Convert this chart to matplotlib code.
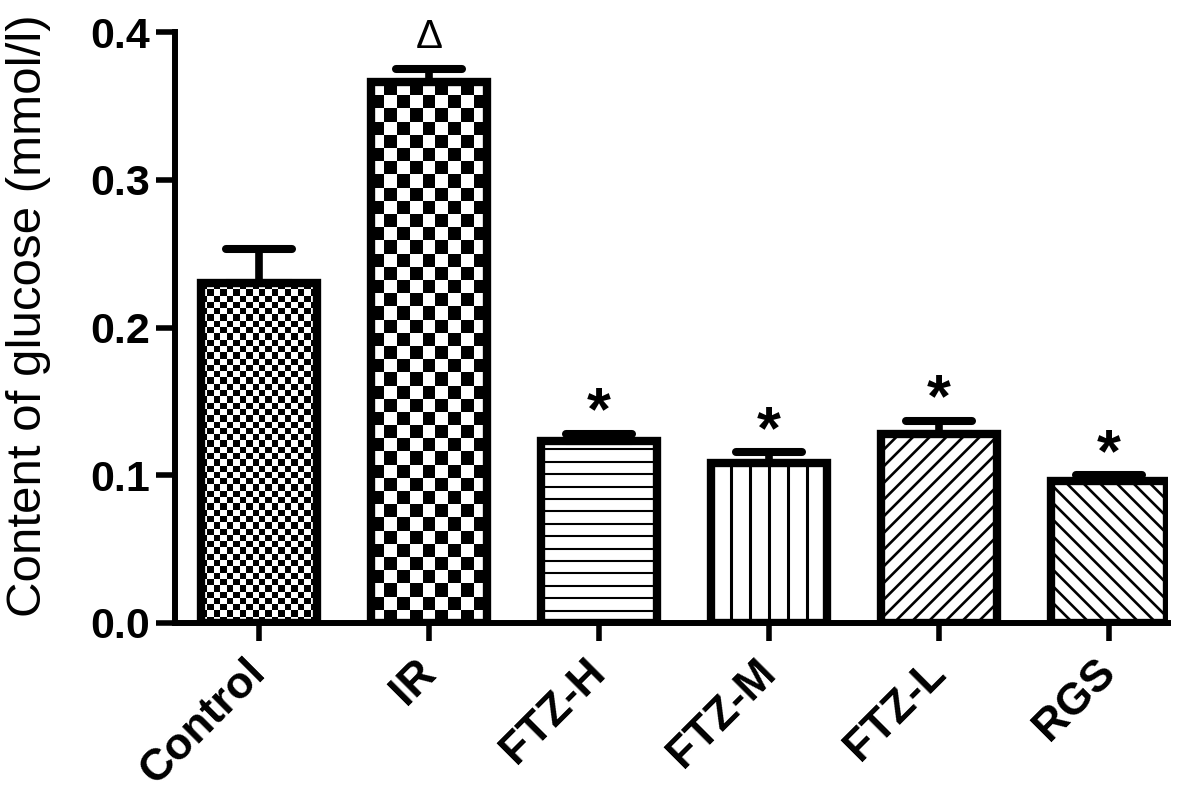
import numpy as np
import matplotlib
matplotlib.use("Agg")
import matplotlib.pyplot as plt
from matplotlib.markers import MarkerStyle

# ---------------- data ----------------
groups = ["Control", "IR", "FTZ-H", "FTZ-M", "FTZ-L", "RGS"]
means = [0.230, 0.366, 0.123, 0.108, 0.128, 0.096]
sems = [0.023, 0.009, 0.005, 0.0075, 0.009, 0.004]
marks = ["", "Δ", "*", "*", "*", "*"]
ytick_values = [0.0, 0.1, 0.2, 0.3, 0.4]
ytick_labels = ["0.0", "0.1", "0.2", "0.3", "0.4"]
ylabel_text = "Content of glucose (mmol/l)"
# fill style per bar: checker (cell px), horizontal / vertical lines (spacing px), hatch
fills = ["checker", "checker", "hlines", "vlines", "//", "\\\\"]
fill_px = [6.3, 13.3, 12.4, 19.0, None, None]

plt.rcParams["font.family"] = ["Liberation Sans", "DejaVu Sans"]
plt.rcParams["hatch.linewidth"] = 1.9
plt.rcParams["hatch.color"] = "black"

W, H = 1200, 795
fig = plt.figure(figsize=(W / 100, H / 100), dpi=100)
ax = fig.add_axes([175 / W, 172 / H, (1168 - 175) / W, (623 - 32) / H])

x = np.arange(len(groups))
xlim = (-0.494, 5.347)
ylim = (0.0, 0.4)
ax.set_xlim(*xlim)
ax.set_ylim(*ylim)

bar_w = 0.68
edge_lw = 6.0
bars = ax.bar(x, means, width=bar_w, color="white", edgecolor="black",
              linewidth=edge_lw, zorder=3)

inv = ax.transData.inverted()
for b, f, px in zip(bars, fills, fill_px):
    x0, w, h = b.get_x(), b.get_width(), b.get_height()
    p0 = ax.transData.transform((x0, 0))
    p1 = ax.transData.transform((x0 + w, h))
    if f == "checker":
        b.set_facecolor("none")
        nx = max(1, int(round((p1[0] - p0[0]) / px)))
        ny = max(1, int(round((p1[1] - p0[1]) / px)))
        img = (np.indices((ny, nx)).sum(axis=0) % 2).astype(float)
        im = ax.imshow(img, cmap="gray_r", vmin=0, vmax=1, interpolation="nearest",
                       extent=(x0, x0 + w, 0, h), aspect="auto", zorder=2,
                       origin="lower")
        im.set_clip_path(b)
    elif f == "hlines":
        ys_px = np.arange(p0[1] + px, p1[1], px)
        ys = [inv.transform((p0[0], yp))[1] for yp in ys_px]
        lc = ax.hlines(ys, x0, x0 + w, colors="black", linewidth=1.5, zorder=3.5)
        lc.set_clip_path(b)
    elif f == "vlines":
        cx = (p0[0] + p1[0]) / 2
        n = int((p1[0] - p0[0]) / 2 // px) + 1
        xs_px = cx + px * np.arange(-n, n + 1)
        xs = [inv.transform((xp, p0[1]))[0] for xp in xs_px]
        lc = ax.vlines(xs, 0, h, colors="black", linewidth=2.2, zorder=3.5)
        lc.set_clip_path(b)
    else:
        b.set_hatch(f)

# error bars (upper only)
eb = ax.errorbar(x, means, yerr=[np.zeros(len(sems)), sems], fmt="none",
                 ecolor="black", elinewidth=5.5, capsize=24, capthick=5.8,
                 zorder=4)
for cl in eb[1]:
    cl.set_marker(MarkerStyle("_", capstyle="round"))

# significance marks
for xi, m, s, mk in zip(x, means, sems, marks):
    if mk == "Δ":
        ax.text(xi, m + s + 0.0145, mk, ha="center", va="baseline",
                fontsize=29, zorder=5)
    elif mk:
        ax.text(xi, m + s + 0.003, mk, ha="center", va="baseline",
                fontsize=44, fontweight="bold", zorder=5)

ax.set_xlim(*xlim)
ax.set_ylim(*ylim)

# axes styling
for side in ["top", "right"]:
    ax.spines[side].set_visible(False)
for side in ["left", "bottom"]:
    ax.spines[side].set_linewidth(4.3)
    ax.spines[side].set_zorder(6)

ax.set_yticks(ytick_values)
ax.set_yticklabels(ytick_labels, fontsize=31, fontweight="bold")
ax.set_xticks(x)
ax.set_xticklabels(groups, fontsize=32, fontweight="bold", rotation=45,
                   ha="right", va="center", rotation_mode="anchor")
ax.tick_params(axis="y", direction="out", length=14, width=4, pad=4)
ax.tick_params(axis="x", direction="out", length=13, width=4, pad=18)

ax.set_ylabel(ylabel_text, fontsize=35.5)
ax.yaxis.set_label_coords(-0.125, 0.52)

fig.savefig("out.png", dpi=100, facecolor="white")
